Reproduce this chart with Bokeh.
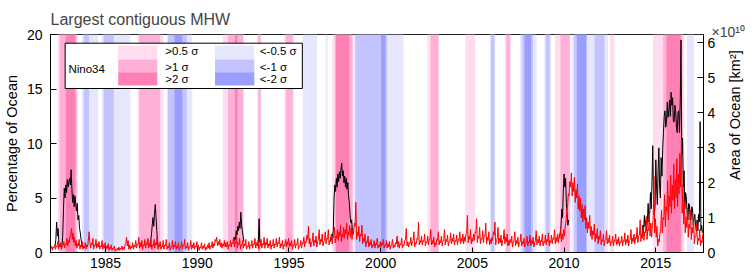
import numpy as np
from bokeh.plotting import figure
from bokeh.models import Range1d, LinearAxis, FixedTicker, ColumnDataSource, Title
from bokeh.core.properties import value
from bokeh.embed import file_html
from bokeh.resources import INLINE

# ---------------- data ----------------
# red series: percentage of ocean, two readings per month starting Jan 1982
red_start = 1982.0
red_1980s = [0.3,0.6, 0.2,0.5, 0.4,0.7, 0.3,0.6, 0.5,1.0, 0.3,0.7, 0.5,0.9, 0.3,0.6, 0.6,1.0, 0.4,0.8, 0.7,1.3, 0.6,1.1,
             0.9,1.5, 1.6,2.2, 1.2,1.8, 0.9,1.4, 0.6,1.1, 0.4,0.8, 0.6,1.2, 0.3,0.7, 0.5,1.0, 0.3,0.6, 0.4,0.9, 0.3,0.7,
             0.5,1.1, 1.9,0.9, 0.4,0.9, 0.7,1.3, 0.3,0.7, 0.6,1.2, 0.4,0.8, 0.5,1.0, 0.3,0.6, 0.5,1.1, 0.3,0.7, 0.4,0.9,
             0.3,0.6, 0.4,0.8, 0.2,0.5, 0.3,0.7, 0.2,0.4, 0.3,0.6, 0.1,0.3, 0.2,0.4, 0.2,0.5, 0.2,0.4, 0.3,0.6, 0.2,0.5,
             0.3,0.7, 0.8,1.4, 0.6,1.1, 0.3,0.7, 0.3,0.6, 0.4,0.9, 0.3,0.7, 0.5,1.1, 0.4,0.8, 0.7,1.4, 0.4,0.9, 0.5,1.1,
             0.3,0.7, 0.6,1.2, 0.4,0.9, 0.7,1.3, 0.4,0.8, 0.5,1.1, 0.3,0.7, 0.6,1.2, 0.4,0.9, 0.7,1.4, 0.3,0.7, 0.5,1.0,
             0.3,0.6, 0.5,1.1, 0.3,0.7, 0.6,1.2, 0.3,0.6, 0.4,0.9, 0.2,0.5, 0.5,1.1, 0.3,0.7, 0.5,1.0, 0.3,0.6, 0.4,0.9,
             0.2,0.5, 0.5,1.0, 0.3,0.7, 0.6,1.2, 0.3,0.6, 0.4,0.9, 0.2,0.5, 0.5,1.1, 0.3,0.7, 0.4,0.9, 0.3,0.6, 0.5,1.0]
red_1990s = [0.3,0.7, 0.2,0.5, 0.4,0.9, 0.3,0.6, 0.4,0.8, 0.2,0.5, 0.3,0.7, 0.4,0.9, 0.3,0.6, 0.5,1.0, 0.4,0.8, 0.6,1.2,
             1.0,1.4, 0.6,1.0, 0.7,1.2, 0.5,0.9, 0.4,0.8, 0.6,1.1, 0.5,0.9, 0.5,1.0, 0.3,0.7, 0.6,1.1, 0.5,0.9, 0.8,1.4,
             0.5,1.0, 0.8,1.5, 0.4,0.9, 0.7,1.3, 0.3,0.7, 0.6,1.1, 0.4,0.8, 0.6,1.2, 0.3,0.6, 0.5,1.0, 0.3,0.7, 0.6,1.1,
             0.4,0.8, 0.7,1.3, 0.4,0.9, 0.6,1.1, 0.3,0.7, 0.6,1.2, 0.4,0.8, 0.7,1.4, 0.4,0.9, 0.7,1.3, 0.4,0.8, 0.6,1.1,
             0.3,0.7, 0.6,1.2, 0.4,0.8, 0.7,1.3, 0.5,0.9, 0.8,1.4, 0.4,0.8, 0.6,1.1, 0.3,0.7, 0.6,1.2, 0.5,1.0, 0.7,1.3,
             0.5,0.9, 0.6,1.1, 0.3,0.7, 0.6,1.2, 0.4,0.8, 0.7,1.3, 0.3,0.6, 0.6,1.1, 0.4,0.9, 0.8,1.4, 0.5,1.0, 0.9,1.6,
             1.2,2.4, 0.8,1.3, 0.5,0.9, 1.0,1.8, 0.6,1.1, 0.9,1.5, 0.5,1.0, 1.2,2.1, 0.7,1.2, 1.0,1.7, 0.6,1.0, 1.1,1.9,
             0.8,1.3, 1.2,2.1, 0.7,1.1, 1.0,1.7, 0.8,1.4, 1.4,2.3, 0.9,1.5, 1.3,2.1, 1.1,1.9, 1.5,2.5, 1.0,1.7, 1.4,2.3,
             1.3,2.1, 1.7,2.7, 1.2,1.9, 1.6,2.5, 1.4,2.3, 1.2,2.0, 1.7,2.7, 2.4,4.6, 1.2,1.9, 1.5,2.4, 1.0,1.7, 1.5,2.5,
             0.8,1.3, 1.0,1.7, 0.5,1.0, 0.9,1.5, 0.5,0.9, 0.7,1.2, 0.4,0.7, 0.6,1.1, 0.4,0.8, 0.7,1.3, 0.4,0.7, 0.5,1.0]
red_2000s = [0.5,0.9, 0.7,1.2, 0.4,0.7, 0.6,1.1, 0.4,0.8, 0.5,1.0, 0.3,0.6, 0.7,1.2, 0.4,0.7, 0.5,0.9, 0.8,1.5, 0.5,1.0,
             0.4,0.8, 0.7,1.3, 0.4,0.7, 0.6,1.1, 1.2,2.2, 0.6,1.0, 0.5,0.9, 0.8,1.4, 0.6,1.0, 1.1,1.9, 0.5,0.9, 0.8,1.3,
             1.2,2.8, 0.7,1.1, 0.9,1.5, 0.7,1.1, 1.0,1.7, 0.6,1.0, 0.9,1.5, 0.7,1.2, 1.2,2.1, 0.7,1.1, 0.8,1.4, 0.5,0.9,
             0.7,1.2, 1.1,1.9, 0.7,1.1, 0.9,1.5, 0.6,1.0, 1.2,2.1, 0.7,1.2, 1.0,1.6, 0.6,1.0, 1.0,1.8, 0.8,1.3, 1.0,1.7,
             0.7,1.1, 1.0,1.6, 0.7,1.2, 1.1,1.9, 0.8,1.3, 1.0,1.7, 0.8,1.4, 1.0,1.6, 1.8,3.4, 0.9,1.5, 1.2,2.1, 0.8,1.3,
             1.0,1.7, 1.1,1.9, 1.8,3.1, 0.9,1.5, 1.3,2.3, 0.8,1.3, 1.2,2.0, 0.9,1.6, 1.5,2.7, 0.8,1.4, 1.1,1.9, 0.7,1.2,
             0.8,1.4, 1.1,1.9, 1.6,2.8, 0.7,1.1, 1.3,2.3, 0.8,1.3, 0.9,1.6, 0.6,1.1, 1.2,2.1, 0.8,1.4, 1.0,1.7, 0.6,1.1,
             0.7,1.2, 0.9,1.5, 0.5,0.9, 1.1,1.9, 0.6,1.1, 0.8,1.4, 0.5,0.9, 1.0,1.7, 0.6,1.0, 0.8,1.3, 0.5,0.9, 0.9,1.5,
             0.6,1.0, 0.9,1.6, 0.6,1.1, 0.8,1.4, 0.5,0.9, 1.1,2.0, 0.7,1.2, 0.9,1.5, 0.6,1.1, 1.0,1.7, 0.6,1.0, 0.9,1.6,
             0.7,1.2, 1.0,1.8, 0.6,1.1, 0.9,1.6, 0.8,1.3, 1.2,2.1, 0.8,1.4, 1.0,1.7, 0.9,1.5, 1.3,2.3, 1.0,1.7, 1.2,2.1]
red_2010s = [1.5,2.4, 2.8,3.8, 4.2,5.4, 5.2,6.5, 6.0,7.3, 5.2,6.4, 5.6,6.9, 4.6,5.8, 5.0,6.3, 4.0,5.2, 3.8,5.0, 3.2,4.4,
             2.8,4.0, 3.0,4.3, 2.2,3.2, 1.8,2.8, 2.2,3.4, 1.5,2.4, 1.2,2.0, 1.6,2.6, 1.0,1.7, 1.3,2.2, 0.8,1.5, 1.2,2.0,
             0.7,1.2, 1.0,1.7, 0.6,1.1, 1.2,2.0, 0.8,1.3, 0.9,1.6, 0.6,1.0, 0.9,1.5, 0.6,1.1, 1.0,1.7, 0.7,1.2, 0.8,1.4,
             0.6,1.0, 0.9,1.5, 0.6,1.1, 1.0,1.8, 0.7,1.2, 0.9,1.6, 0.6,1.1, 1.2,2.1, 0.8,1.3, 1.0,1.7, 0.8,1.4, 1.3,2.3,
             0.9,1.5, 1.6,3.0, 1.0,1.7, 1.3,2.3, 1.1,1.9, 1.8,3.3, 1.2,2.1, 2.0,3.6, 1.5,2.7, 1.4,2.5, 3.0,7.0, 1.8,3.1,
             1.4,2.4, 0.6,1.2, 1.0,1.8, 2.2,3.9, 1.8,3.2, 3.0,5.3, 2.4,4.2, 3.8,6.6, 3.0,5.2, 4.2,7.1, 3.6,6.2, 4.8,8.1,
             4.0,6.7, 5.0,8.6, 4.2,7.2, 5.4,9.1, 6.0,10.3, 3.6,6.2, 2.6,4.6, 1.8,3.3, 2.3,4.1, 1.4,2.6, 2.2,3.9, 1.2,2.3,
             1.8,3.1, 0.8,1.5, 1.5,2.7, 0.7,1.3, 1.1,2.1, 0.6,1.1, 0.9,1.7]

# black series: event segments (half-monthly values)
black_1982_start = 1982.25
black_1982 = [0.6, 1.2, 2.8, 1.5, 2.2, 0.8, 0.5, 0.6, 0.5, 0.7, 1.5, 4.0, 5.9, 5.0,
              6.2, 5.5, 6.7, 6.0, 6.5, 6.8, 6.2, 7.6, 5.8, 4.6, 5.3, 4.2, 5.2, 4.4,
              3.8, 4.5, 3.0, 3.4, 2.2, 1.8, 1.2, 0.8, 0.5, 0.4]
black_1987_start = 1987.42
black_1987 = [0.8, 1.0, 1.6, 2.5, 3.2, 2.4, 3.6, 4.4, 3.2, 2.0, 1.0, 0.6]
black_1992_start = 1992.0
black_1992 = [1.0, 1.4, 1.2, 2.0, 1.6, 2.4, 2.0, 2.8, 2.2, 3.7, 2.6, 2.0, 1.5, 1.0]
black_1993_start = 1993.33
black_1993 = [0.9, 3.1, 0.9]
black_1997_start = 1997.25
black_1997 = [1.0, 1.4, 1.2, 1.6, 2.0, 5.0, 6.2, 5.6, 6.8, 6.0, 7.2, 6.5, 7.4, 6.8,
              7.6, 8.2, 7.0, 7.5, 6.4, 7.0, 6.0, 6.8, 5.8, 6.4, 5.2, 4.6, 3.4, 2.7,
              3.0, 2.0, 1.6]
black_2010_start = 2009.75
black_2010 = [1.5, 1.8, 2.5, 4.0, 3.2, 5.8, 7.2, 6.0, 6.8, 4.5, 3.5, 2.5, 3.0]
black_2014_start = 2014.25
black_2014 = [1.5, 2.5, 2.0, 3.4, 2.4, 3.0,
              2.0, 3.0, 4.5, 2.8, 3.5, 5.5, 4.0, 6.5, 9.8, 5.0, 3.5, 4.2,
              8.5, 6.0, 4.4, 7.5, 9.6, 6.0, 5.0, 8.7, 7.0, 9.5, 11.0, 12.5,
              13.0, 11.5, 12.0, 13.8, 12.4, 13.0, 14.0, 12.5, 14.7, 13.5, 14.2, 12.0,
              12.0, 13.5, 13.0, 11.5, 11.0, 12.8, 13.0, 11.0, 14.0, 19.5, 9.0, 10.5,
              6.0, 7.5, 4.0, 5.5, 5.0, 3.5, 3.0, 4.5, 4.4, 3.0, 3.0, 4.2,
              4.0, 2.5, 3.0, 3.5, 2.5, 2.0, 3.0, 2.0, 3.5, 2.8, 12.0, 2.0, 2.5, 1.8]

# Nino34 phases (start, end, level: +1 >0.5s, +2 >1s, +3 >2s, negatives for La Nina)
nino_start = [1982.40, 1982.50, 1982.83, 1983.72, 1983.82, 1984.80, 1984.90,
              1986.75, 1986.84, 1988.35, 1988.40, 1988.76, 1991.40, 1991.68, 1992.05,
              1993.27, 1993.33, 1994.75, 1994.83, 1995.75, 1997.00, 1997.36, 1997.50,
              1997.56, 1998.55, 1998.62, 2000.02, 2002.55, 2002.72, 2004.62, 2005.95,
              2006.02, 2006.78, 2006.85, 2007.60, 2007.72, 2007.85, 2008.92, 2009.00,
              2009.50, 2009.80, 2010.42, 2010.55, 2010.70, 2011.66, 2012.50, 2014.85,
              2015.40, 2015.58, 2016.70]
nino_end = [1983.50, 1983.42, 1983.35, 1984.60, 1984.10, 1986.36, 1985.45,
            1988.16, 1987.98, 1989.73, 1989.43, 1989.19, 1992.55, 1992.50, 1992.20,
            1993.50, 1993.45, 1995.28, 1995.20, 1996.53, 1997.10, 1998.50, 1998.47,
            1998.29, 2001.25, 2000.35, 2000.25, 2003.17, 2003.15, 2005.15, 2006.25,
            2006.20, 2007.10, 2007.05, 2008.50, 2008.30, 2008.20, 2009.28, 2009.22,
            2010.35, 2010.30, 2012.40, 2011.25, 2011.20, 2012.20, 2012.75, 2016.55,
            2016.45, 2016.36, 2017.08]
nino_level = [1, 2, 3, -1, -2, -1, -2,
              1, 2, -1, -2, -3, 1, 2, 3,
              1, 2, 1, 2, -1, -1, 1, 2,
              3, -1, -2, -3, 1, 2, 1, -1,
              -2, 1, 2, -1, -2, -3, -1, -2,
              1, 2, -1, -2, -3, -2, 1, 1,
              2, 3, -1]

x_ticks = [1985, 1990, 1995, 2000, 2005, 2010, 2015]
pct_ticks = [0, 5, 10, 15, 20]
area_ticks = [0, 1, 2, 3, 4, 5, 6]
legend_pos_levels = [1, 2, 3]
legend_neg_levels = [-1, -2, -3]
legend_pos_texts = [">0.5 σ", ">1 σ", ">2 σ"]
legend_neg_texts = ["<-0.5 σ", "<-1 σ", "<-2 σ"]

# ---------------- layout ----------------
W, H = 755, 274
BL, BR, BT, BB = 47, 52, 34, 22
FW, FH = W - BL - BR, H - BT - BB
X0, X1 = 1982.0, 2017.6
Y0, Y1 = 0.0, 20.0
AREA_MAX = 6.24
FONT = "Liberation Sans"

XPX = (X1 - X0) / FW
YPX = (Y1 - Y0) / FH


def fx(px):
    """pixels from frame left -> data x"""
    return X0 + px * XPX


def fy(py):
    """pixels from frame top -> data y"""
    return Y1 - py * YPX


colors = {1: "#FFDDEE", 2: "#FFB0D8", 3: "#FF80B4",
          -1: "#E6E6FC", -2: "#C3C3FF", -3: "#9A9EFF"}

p = figure(width=W, height=H, x_range=Range1d(X0, X1), y_range=Range1d(Y0, Y1),
           output_backend="svg", toolbar_location=None, title=None,
           min_border_left=BL, min_border_right=BR, min_border_top=BT, min_border_bottom=BB)
p.extra_y_ranges = {"area": Range1d(0, AREA_MAX)}
p.xgrid.visible = False
p.ygrid.visible = False
p.outline_line_color = "#222222"
p.outline_line_width = 1
p.background_fill_color = "white"
p.border_fill_color = "white"

# exponent of the right axis, nudged down towards the frame; main title
p.add_layout(Title(text="×10¹⁰", align="left", offset=FW + 5, text_font=FONT,
                   text_font_size="14px", text_font_style="normal", standoff=-11), "above")
p.add_layout(Title(text="Largest contiguous MHW", align="left", offset=0, text_font=FONT,
                   text_font_size="16px", text_font_style="normal", standoff=0), "above")

# background Nino34 bands
order = sorted(range(len(nino_level)), key=lambda i: abs(nino_level[i]))
band_src = ColumnDataSource(dict(
    left=[nino_start[i] for i in order],
    right=[nino_end[i] for i in order],
    color=[colors[nino_level[i]] for i in order]))
p.quad(left="left", right="right", bottom=Y0, top=Y1, fill_color="color",
       line_color=None, source=band_src)

# black series
segs = [(black_1982_start, black_1982), (black_1987_start, black_1987),
        (black_1992_start, black_1992), (black_1993_start, black_1993),
        (black_1997_start, black_1997), (black_2010_start, black_2010),
        (black_2014_start, black_2014)]
bx = [list(s + np.arange(len(v)) / 24.0) for s, v in segs]
by = [list(v) for s, v in segs]
p.multi_line(xs=bx, ys=by, line_color="black", line_width=1.0)

# red series
red_vals = red_1980s + red_1990s + red_2000s + red_2010s
red_t = red_start + (np.arange(len(red_vals)) + 0.5) / 24.0
p.line(red_t, red_vals, line_color="#FF0000", line_width=1.0)

# legend box
p.quad(left=fx(14.7), right=fx(253), top=fy(8.7), bottom=fy(54),
       fill_color="white", line_color="black", line_width=1)
sw_rows = [(11, 25), (25, 37.7), (37.7, 51)]
p.quad(left=[fx(68)] * 3, right=[fx(107.3)] * 3,
       top=[fy(a) for a, b in sw_rows], bottom=[fy(b) for a, b in sw_rows],
       fill_color=[colors[l] for l in legend_pos_levels], line_color=None)
p.quad(left=[fx(165.3)] * 3, right=[fx(204.7)] * 3,
       top=[fy(a) for a, b in sw_rows], bottom=[fy(b) for a, b in sw_rows],
       fill_color=[colors[l] for l in legend_neg_levels], line_color=None)
text_rows = [16.7, 32.0, 44.3]
leg_src = ColumnDataSource(dict(
    x=[fx(18)] + [fx(115.3)] * 3 + [fx(210.3)] * 3,
    y=[fy(34.5)] + [fy(r) for r in text_rows] * 2,
    t=["Nino34"] + legend_pos_texts + legend_neg_texts))
p.text(x="x", y="y", text="t", source=leg_src, text_font=value(FONT),
       text_font_size=value("11.5px"), text_baseline="middle", text_align="left",
       text_color="black")

# axes
for ax in (p.xaxis[0], p.yaxis[0]):
    ax.axis_line_color = "black"
    ax.major_label_text_font = FONT
    ax.major_label_text_font_size = "14px"
    ax.major_label_text_color = "black"
    ax.minor_tick_line_color = None
    ax.major_tick_line_color = "black"
    ax.axis_label_text_font = FONT
    ax.axis_label_text_font_style = "normal"
    ax.axis_label_text_color = "black"

p.xaxis.ticker = FixedTicker(ticks=x_ticks)
p.xaxis.major_tick_in = 5
p.xaxis.major_tick_out = 0
p.xaxis.major_label_standoff = 5

p.yaxis.ticker = FixedTicker(ticks=pct_ticks)
p.yaxis.major_tick_in = 6
p.yaxis.major_tick_out = 0
p.yaxis.major_label_standoff = 8
p.yaxis.axis_label = "Percentage of Ocean"
p.yaxis.axis_label_text_font_size = "14.5px"
p.yaxis.axis_label_standoff = 4

rax = LinearAxis(y_range_name="area", ticker=FixedTicker(ticks=area_ticks))
rax.axis_line_color = "black"
rax.major_label_text_font = FONT
rax.major_label_text_font_size = "14px"
rax.major_label_text_color = "black"
rax.minor_tick_line_color = None
rax.major_tick_in = 6
rax.major_tick_out = 0
rax.major_label_standoff = 4
# label anchored at the lower end of the axis; no-break spaces lift its start
rax.axis_label = "\u00a0" * 18 + "Area of Ocean [km²]"
rax.axis_label_text_font = FONT
rax.axis_label_text_font_size = "14.5px"
rax.axis_label_text_font_style = "normal"
rax.axis_label_text_color = "black"
rax.axis_label_standoff = 17
try:
    rax.axis_label_orientation = np.pi / 2
except Exception:
    pass
try:
    rax.axis_label_align = "start"
except Exception:
    pass
p.add_layout(rax, "right")

open("out.html", "w").write(file_html(p, INLINE))
